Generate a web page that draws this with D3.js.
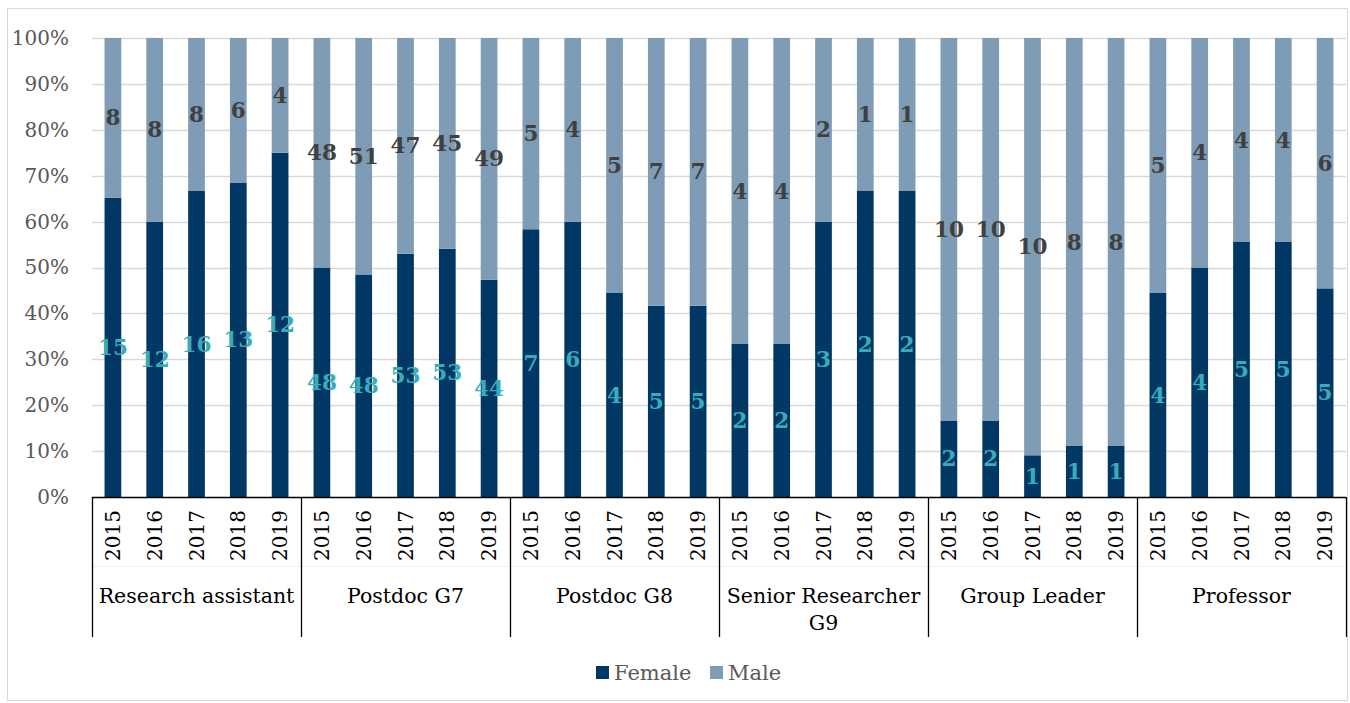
<!DOCTYPE html>
<html>
<head>
<meta charset="utf-8">
<script src="https://cdn.jsdelivr.net/npm/d3@7"></script>
<style>
  html, body { margin: 0; padding: 0; background: #fff; }
  svg { display: block; }
  text { font-family: "DejaVu Serif", "Liberation Serif", serif; }
</style>
</head>
<body>
<svg id="chart" width="1350" height="703"></svg>
<script>
// ---- Data ----
const groups = ["Research assistant", "Postdoc G7", "Postdoc G8", "Senior Researcher G9", "Group Leader", "Professor"];
const years = ["2015", "2016", "2017", "2018", "2019"];
const female = [15, 12, 16, 13, 12,  48, 48, 53, 53, 44,  7, 6, 4, 5, 5,  2, 2, 3, 2, 2,  2, 2, 1, 1, 1,  4, 4, 5, 5, 5];
const male   = [ 8,  8,  8,  6,  4,  48, 51, 47, 45, 49,  5, 4, 5, 7, 7,  4, 4, 2, 1, 1, 10, 10, 10, 8, 8,  5, 4, 4, 4, 6];
const seriesNames = ["Female", "Male"];
const yTicks = [0, 0.1, 0.2, 0.3, 0.4, 0.5, 0.6, 0.7, 0.8, 0.9, 1.0];

// ---- Build table ----
const rows = [];
groups.forEach((g, gi) => {
  years.forEach((y, yi) => {
    const i = gi * years.length + yi;
    rows.push({ key: g + "|" + y, group: g, year: y, Female: female[i], Male: male[i] });
  });
});

const colors = { Female: "#003764", Male: "#7f9cb6" };
const labelColors = { Female: "#36adba", Male: "#404040" };

const svg = d3.select("#chart");
const plotLeft = 92, plotRight = 1346, plotTop = 38, plotBottom = 497;

// chart border
svg.append("rect").attr("x", 7.5).attr("y", 8.5).attr("width", 1340).attr("height", 692)
  .attr("fill", "none").attr("stroke", "#d9d9d9");

const x = d3.scaleBand().domain(rows.map(d => d.key)).range([plotLeft, plotRight])
  .paddingInner(0.6).paddingOuter(0.3);
const y = d3.scaleLinear().domain([0, 1]).range([plotBottom, plotTop]);

// gridlines
svg.append("g").selectAll("line").data(yTicks.filter(t => t > 0)).join("line")
  .attr("x1", plotLeft).attr("x2", plotRight)
  .attr("y1", d => Math.round(y(d)) + 0.5).attr("y2", d => Math.round(y(d)) + 0.5)
  .attr("stroke", "#d9d9d9").attr("stroke-width", 1.5);

// y axis labels
const yAxis = d3.axisLeft(y).tickValues(yTicks).tickFormat(d3.format(".0%")).tickSize(0).tickPadding(0);
const yg = svg.append("g").attr("transform", `translate(69,0)`).call(yAxis);
yg.select(".domain").remove();
yg.selectAll("text").attr("font-size", 20).attr("fill", "#595959")
  .style("font-family", '"DejaVu Serif", serif');

// stack
const stack = d3.stack().keys(seriesNames).offset(d3.stackOffsetExpand);
const series = stack(rows);

const layers = svg.append("g").selectAll("g").data(series).join("g")
  .attr("fill", d => colors[d.key]);
layers.selectAll("rect").data(d => d).join("rect")
  .attr("x", d => x(d.data.key))
  .attr("width", x.bandwidth())
  .attr("y", d => y(d[1]))
  .attr("height", d => y(d[0]) - y(d[1]));

// data labels
const lbl = svg.append("g");
series.forEach(s => {
  lbl.selectAll(null).data(s).join("text")
    .attr("x", d => x(d.data.key) + x.bandwidth() / 2)
    .attr("y", d => y((d[0] + d[1]) / 2))
    .attr("text-anchor", "middle")
    .attr("dominant-baseline", "central")
    .attr("font-size", 21.5)
    .attr("font-weight", "bold")
    .attr("fill", labelColors[s.key])
    .text(d => d.data[s.key]);
});

// category axis
const ax = svg.append("g");
ax.append("line").attr("x1", plotLeft).attr("x2", plotRight).attr("y1", plotBottom + 0.5).attr("y2", plotBottom + 0.5)
  .attr("stroke", "#000").attr("stroke-width", 1.3);
ax.append("line").attr("x1", plotLeft).attr("x2", plotRight).attr("y1", 566.5).attr("y2", 566.5)
  .attr("stroke", "#f0f0f0").attr("stroke-width", 1);
const gw = x.step() * years.length;
const bounds = d3.range(groups.length + 1).map(i => plotLeft + i * gw);
ax.selectAll("line.div").data(bounds).join("line").attr("class", "div")
  .attr("x1", d => Math.round(d) + 0.5).attr("x2", d => Math.round(d) + 0.5)
  .attr("y1", plotBottom).attr("y2", 637)
  .attr("stroke", "#000").attr("stroke-width", 1.3);

// year labels
ax.selectAll("text.yr").data(rows).join("text").attr("class", "yr")
  .attr("transform", d => `translate(${x(d.key) + x.bandwidth() / 2},510) rotate(-90)`)
  .attr("text-anchor", "end").attr("dominant-baseline", "central")
  .attr("font-size", 20).attr("fill", "#000")
  .text(d => d.year);

// group labels (wrapped to group width)
groups.forEach((g, gi) => {
  const cx = plotLeft + gi * gw + gw / 2;
  const t = ax.append("text").attr("x", cx).attr("y", 596).attr("text-anchor", "middle")
    .attr("dominant-baseline", "central").attr("font-size", 20.5).attr("fill", "#000").text(g);
  if (t.node().getComputedTextLength() > gw - 4) {
    const words = g.split(" ");
    const last = words.pop();
    t.text(null);
    t.append("tspan").attr("x", cx).attr("dy", 0).text(words.join(" "));
    t.append("tspan").attr("x", cx).attr("dy", 27).text(last);
  }
});

// legend
const leg = svg.append("g");
const legItems = [{ name: "Female", x: 596 }, { name: "Male", x: 710 }];
legItems.forEach(it => {
  leg.append("rect").attr("x", it.x).attr("y", 666).attr("width", 13).attr("height", 13).attr("fill", colors[it.name]);
  leg.append("text").attr("x", it.x + 18).attr("y", 672.5).attr("dominant-baseline", "central")
    .attr("font-size", 21).attr("fill", "#595959").text(it.name);
});
</script>
</body>
</html>
